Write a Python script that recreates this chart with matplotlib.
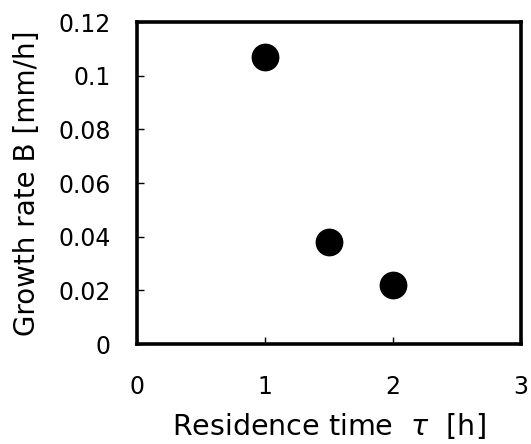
import matplotlib
matplotlib.use("Agg")
import matplotlib.pyplot as plt

# residence time [h] and growth rate [mm/h]
tau = [1.0, 1.5, 2.0]
growth = [0.107, 0.038, 0.022]

x_ticks = [0, 1, 2, 3]
y_ticks = [0, 0.02, 0.04, 0.06, 0.08, 0.1, 0.12]
y_labels = ["0", "0.02", "0.04", "0.06", "0.08", "0.1", "0.12"]

plt.rcParams['font.family'] = ['DejaVu Sans']

fig = plt.figure(figsize=(5.31, 4.44), dpi=100)
ax = fig.add_axes([137 / 531, 1 - 344 / 444, 384 / 531, 322 / 444])

ax.plot(tau, growth, 'o', color='black', markersize=19, clip_on=False)

ax.set_xlim(0, 3)
ax.set_ylim(0, 0.12)
ax.set_xticks(x_ticks)
ax.set_xticklabels([str(t) for t in x_ticks])
ax.set_yticks(y_ticks)
ax.set_yticklabels(y_labels)

ax.tick_params(direction='in', length=5, width=1, labelsize=17, color='black')
ax.tick_params(axis='x', pad=22)
ax.tick_params(axis='y', pad=19)
for s in ax.spines.values():
    s.set_linewidth(2.6)

ax.set_xlabel(r"Residence time  $\tau$  [h]", fontsize=20.5, labelpad=9)
ax.set_ylabel("Growth rate B [mm/h]", fontsize=20, labelpad=12)

fig.savefig("out.png", dpi=100)
